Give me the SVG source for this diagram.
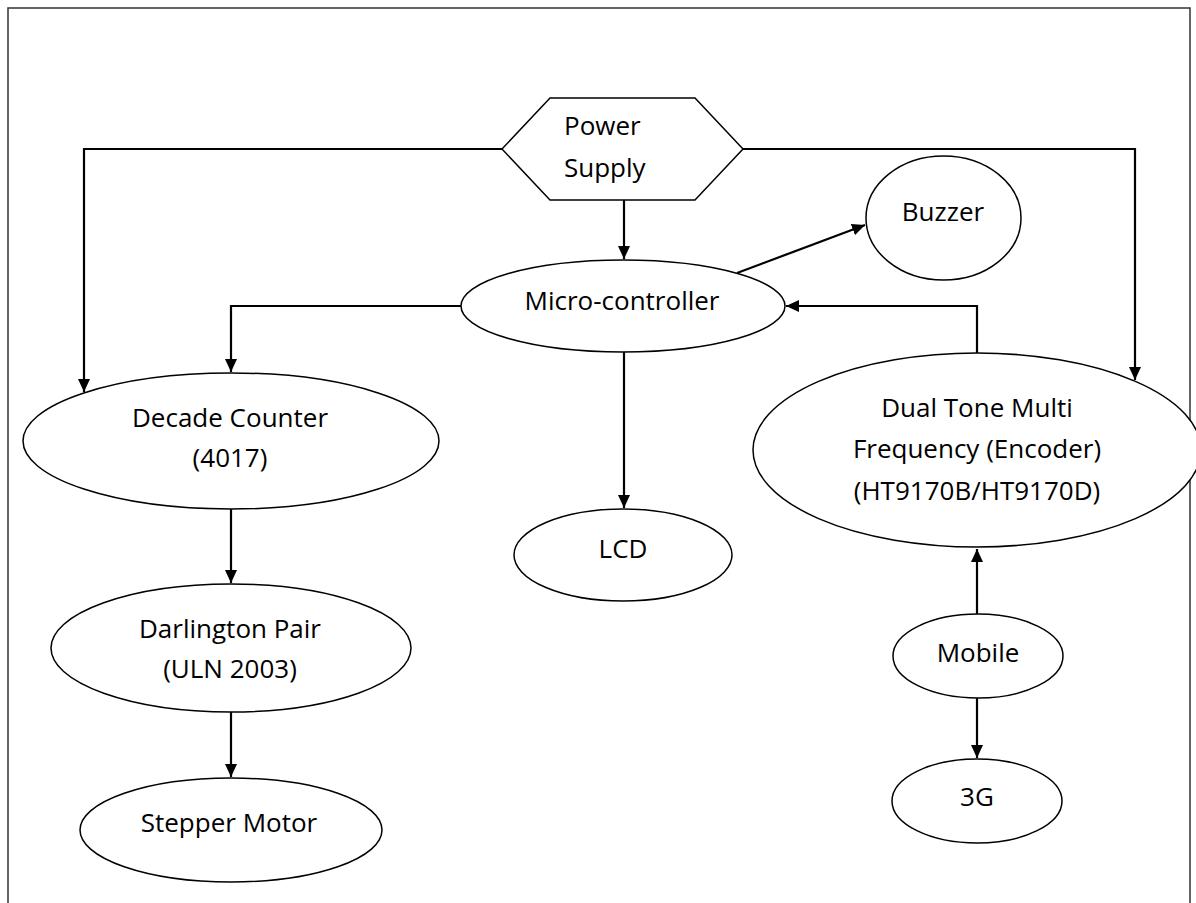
<svg xmlns="http://www.w3.org/2000/svg" width="1196" height="903" viewBox="0 0 1196 903">
<style>
.shape{fill:#fff;stroke:#000;stroke-width:1.5}
.lbl{font-family:"Open Sans","Noto Sans",sans-serif;font-size:26px;fill:#000;text-anchor:middle}
.lblL{font-family:"Open Sans","Noto Sans",sans-serif;font-size:26px;fill:#000}
.conn{fill:none;stroke:#000;stroke-width:2.2}
</style>
<defs>
<marker id="arr" markerUnits="userSpaceOnUse" markerWidth="14" markerHeight="12" refX="13" refY="6" orient="auto">
<path d="M0,0 L13,6 L0,12 Z" fill="#000"/>
</marker>
</defs>
<rect width="1196" height="903" fill="#fff"/>
<path d="M8,903 L8,8 L1190,8 L1190,903" fill="none" stroke="#333" stroke-width="1.5"/>

<g id="connectors">
<polyline class="conn" points="502,149 84,149 84,392" marker-end="url(#arr)"/>
<polyline class="conn" points="743,149 1135,149 1135,380" marker-end="url(#arr)"/>
<line class="conn" x1="624" y1="200" x2="624" y2="259" marker-end="url(#arr)"/>
<line class="conn" x1="737" y1="273" x2="865" y2="225" marker-end="url(#arr)"/>
<polyline class="conn" points="461,306 231,306 231,372" marker-end="url(#arr)"/>
<line class="conn" x1="624" y1="352" x2="624" y2="508" marker-end="url(#arr)"/>
<polyline class="conn" points="977,353 977,306 786,306" marker-end="url(#arr)"/>
<line class="conn" x1="231" y1="509" x2="231" y2="583" marker-end="url(#arr)"/>
<line class="conn" x1="231" y1="712" x2="231" y2="777" marker-end="url(#arr)"/>
<line class="conn" x1="977" y1="614" x2="977" y2="549" marker-end="url(#arr)"/>
<line class="conn" x1="977" y1="698" x2="977" y2="758" marker-end="url(#arr)"/>
</g>

<g id="power-supply">
<polygon class="shape" points="502,149 550,98 695,98 743,149 695,200 550,200"/>
<text class="lblL" x="564" y="135">Power</text>
<text class="lblL" x="564" y="177">Supply</text>
</g>

<g id="buzzer">
<ellipse class="shape" cx="943.5" cy="218" rx="77.5" ry="62"/>
<text class="lbl" x="943" y="221">Buzzer</text>
</g>

<g id="micro-controller">
<ellipse class="shape" cx="623" cy="306" rx="162" ry="46"/>
<text class="lbl" x="622" y="310">Micro-controller</text>
</g>

<g id="decade-counter">
<ellipse class="shape" cx="231" cy="441" rx="208" ry="68"/>
<text class="lbl" x="230" y="427">Decade Counter</text>
<text class="lbl" x="230" y="467">(4017)</text>
</g>

<g id="lcd">
<ellipse class="shape" cx="623" cy="555" rx="109" ry="46"/>
<text class="lbl" x="623" y="558">LCD</text>
</g>

<g id="dtmf">
<ellipse class="shape" cx="977" cy="450" rx="224" ry="97"/>
<text class="lbl" x="977" y="417">Dual Tone Multi</text>
<text class="lbl" x="977" y="458">Frequency (Encoder)</text>
<text class="lbl" x="977" y="500">(HT9170B/HT9170D)</text>
</g>

<g id="darlington-pair">
<ellipse class="shape" cx="231" cy="648" rx="180" ry="64"/>
<text class="lbl" x="230" y="638">Darlington Pair</text>
<text class="lbl" x="230" y="678">(ULN 2003)</text>
</g>

<g id="mobile">
<ellipse class="shape" cx="978" cy="656" rx="85" ry="42"/>
<text class="lbl" x="978" y="662">Mobile</text>
</g>

<g id="3g">
<ellipse class="shape" cx="977" cy="801" rx="85" ry="42"/>
<text class="lbl" x="977" y="806">3G</text>
</g>

<g id="stepper-motor">
<ellipse class="shape" cx="231" cy="830" rx="151" ry="52"/>
<text class="lbl" x="229" y="832">Stepper Motor</text>
</g>
</svg>
